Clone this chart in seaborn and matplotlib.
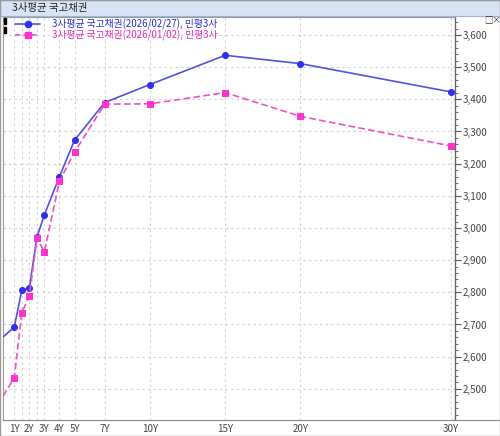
import numpy as np
import pandas as pd
import matplotlib
matplotlib.use("Agg")
import matplotlib.pyplot as plt
import seaborn as sns
from matplotlib.ticker import FixedLocator, MultipleLocator, FuncFormatter
from matplotlib.patches import Rectangle
from matplotlib.lines import Line2D

# ---- data ----
tenors = [0.25, 1, 1.5, 2, 2.5, 3, 4, 5, 7, 10, 15, 20, 30]
blue_vals = [2661, 2692, 2807, 2813, 2971, 3041, 3160, 3273, 3390, 3446, 3537, 3511, 3423]
pink_vals = [2477, 2534, 2737, 2789, 2968, 2926, 3146, 3236, 3385, 3386, 3421, 3347, 3255]
grid_tenors = [1, 1.5, 2, 2.5, 3, 4, 5, 7, 10, 15, 20, 30]
label_tenors = [1, 2, 3, 4, 5, 7, 10, 15, 20, 30]
tick_labels = ["1Y", "2Y", "3Y", "4Y", "5Y", "7Y", "10Y", "15Y", "20Y", "30Y"]
series_names = ["3사평균 국고채권(2026/02/27), 민평3사",
                "3사평균 국고채권(2026/01/02), 민평3사"]
chart_title = "3사평균 국고채권"

sns.set_theme(style="white")
plt.rcParams["font.family"] = ["Noto Sans CJK KR", "DejaVu Sans"]

df_blue = pd.DataFrame({"tenor": tenors, "value": blue_vals, "series": series_names[0]})
df_pink = pd.DataFrame({"tenor": tenors, "value": pink_vals, "series": series_names[1]})

W, H = 500, 436
fig = plt.figure(figsize=(W / 100, H / 100), dpi=100)
fig.patch.set_facecolor("white")

# title bar
fig.patches.append(Rectangle((0, 1 - 16 / H), 1, 16 / H, transform=fig.transFigure,
                             facecolor="#d6e4f5", edgecolor="#9fb4cf", lw=0.8, zorder=0))
fig.text(12 / W, 1 - 8.5 / H, chart_title, fontsize=7.5, color="#222222", va="center", ha="left")
fig.text(484 / W, 1 - 20 / H, "□×", fontsize=6, color="#333333", va="center", ha="left")

left, right, top, bottom = 3, 455, 17, 420
ax = fig.add_axes([left / W, 1 - bottom / H, (right - left) / W, (bottom - top) / H])
ax.set_facecolor("white")

mk = list(range(1, len(tenors)))
blue_line = "#5252dc"
blue_mk = "#2f2ff0"
pink_line = "#f050c8"
pink_mk = "#ff33cc"

sns.lineplot(data=df_blue, x="tenor", y="value", ax=ax, color=blue_line, lw=1.2,
             marker="o", markersize=4.3, markerfacecolor=blue_mk, markeredgecolor=blue_mk,
             markevery=mk, legend=False, zorder=3)
sns.lineplot(data=df_pink, x="tenor", y="value", ax=ax, color=pink_line, lw=1.2,
             linestyle=(0, (4, 2)), marker="s", markersize=4.3, markerfacecolor=pink_mk,
             markeredgecolor=pink_mk, markevery=mk, legend=False, zorder=4)

ax.set_xlim(0.25, 30.26)
ax.set_ylim(2403, 3656)

# grid
ax.xaxis.set_major_locator(FixedLocator(label_tenors))
ax.set_xticklabels(tick_labels)
for t in grid_tenors:
    ax.axvline(t, color="#cfcfcf", lw=0.8, linestyle=(0, (2, 3)), zorder=1)
for v in range(2500, 3700, 100):
    ax.axhline(v, color="#cfcfcf", lw=0.8, linestyle=(0, (2, 3)), zorder=1)

ax.set_xlabel("")
ax.set_ylabel("")

# y axis on right
ax.yaxis.tick_right()
ax.yaxis.set_major_locator(MultipleLocator(100))
ax.yaxis.set_minor_locator(MultipleLocator(20))
ax.yaxis.set_major_formatter(FuncFormatter(lambda v, p: f"{int(v):,}"))
ax.tick_params(axis="y", which="major", length=4, width=0.8, colors="#555555",
               labelsize=7, pad=1.5, labelcolor="#444444")
ax.tick_params(axis="y", which="minor", length=2, width=0.6, colors="#555555")
ax.tick_params(axis="x", which="major", length=3, width=0.8, colors="#888888",
               labelsize=7, pad=3, labelcolor="#444444", direction="in")

for s in ["top", "left"]:
    ax.spines[s].set_color("#999999")
    ax.spines[s].set_linewidth(0.8)
ax.spines["right"].set_color("#666666")
ax.spines["right"].set_linewidth(1.0)
ax.spines["bottom"].set_color("#888888")
ax.spines["bottom"].set_linewidth(0.8)

# extend the bottom axis line across to the right edge
fig.add_artist(Line2D([right / W, 1], [1 - bottom / H, 1 - bottom / H],
                      transform=fig.transFigure, color="#888888", lw=0.8))
# outer frame
fig.patches.append(Rectangle((0, 0), 1, 1, transform=fig.transFigure, fill=False,
                             edgecolor="#999999", lw=1.0))

# legend
handles = [
    Line2D([], [], color=blue_line, lw=1.2, marker="o", markersize=4.5,
           markerfacecolor=blue_mk, markeredgecolor=blue_mk),
    Line2D([], [], color=pink_line, lw=1.2, linestyle=(0, (3, 2)), marker="s", markersize=4.5,
           markerfacecolor=pink_mk, markeredgecolor=pink_mk),
]
leg = ax.legend(handles, series_names, loc="upper left", frameon=False, fontsize=7,
                handlelength=2.6, handletextpad=1.2, labelspacing=-0.1,
                borderaxespad=0.0, bbox_to_anchor=(0.018, 1.005))
for txt, c in zip(leg.get_texts(), ["#2a2ad0", "#e02cb8"]):
    txt.set_color(c)
# small black markers at legend row starts
for yy in (21, 30):
    fig.patches.append(Rectangle((4 / W, 1 - (yy + 3) / H), 2 / W, 6 / H,
                                 transform=fig.transFigure, color="black", zorder=5))

fig.savefig("out.png", dpi=100)
